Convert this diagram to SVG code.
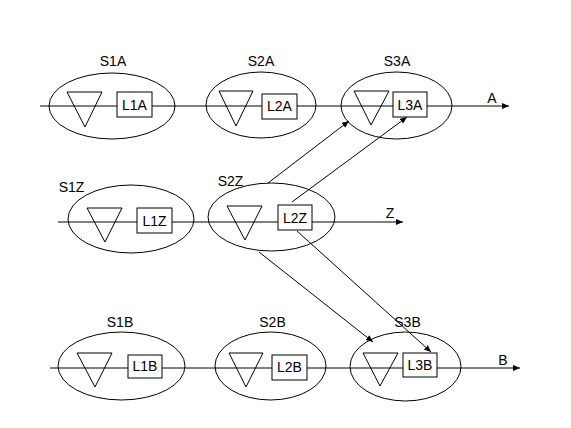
<svg xmlns="http://www.w3.org/2000/svg" width="571" height="428" viewBox="0 0 571 428">
<style>
.e{fill:none;stroke:#000;stroke-width:1}
.t{fill:none;stroke:#000;stroke-width:1}
.b{fill:#fff;stroke:#000;stroke-width:1}
.c{fill:none;stroke:#000;stroke-width:1;marker-end:url(#ah)}
text{font-family:"Liberation Sans",Arial,sans-serif;font-size:14px;fill:#000;text-anchor:middle}
</style>
<defs>
<marker id="ah" markerUnits="userSpaceOnUse" markerWidth="8" markerHeight="7" refX="7" refY="3" orient="auto">
<path d="M0,0 L7,3 L0,6 z" fill="#000"/>
</marker>
</defs>
<rect width="571" height="428" fill="#fff"/>
<g id="connectors">
<line class="c" x1="40" y1="106" x2="509" y2="106"/>
<line class="c" x1="58" y1="222" x2="403" y2="222"/>
<line class="c" x1="50" y1="368" x2="520" y2="368"/>
<line class="c" x1="268" y1="183" x2="349" y2="121"/>
<line class="c" x1="292" y1="202" x2="407" y2="117"/>
<line class="c" x1="259" y1="252" x2="373" y2="342"/>
<line class="c" x1="297" y1="231" x2="431" y2="352"/>
</g>
<g id="labels">
<text x="492" y="103">A</text>
<text x="390" y="218">Z</text>
<text x="503" y="365">B</text>
</g>
<g id="S1A">
<ellipse class="e" cx="112" cy="106" rx="63" ry="33"/>
<polygon class="t" points="67,92 102,92 85,127"/>
<rect class="b" x="117" y="92" width="35" height="25"/>
<text x="134.5" y="110">L1A</text>
<text x="113" y="66">S1A</text>
</g>
<g id="S2A">
<ellipse class="e" cx="261" cy="105" rx="55" ry="33"/>
<polygon class="t" points="219,91 253,91 236,126"/>
<rect class="b" x="262" y="94" width="35" height="25"/>
<text x="279.5" y="111">L2A</text>
<text x="261" y="66">S2A</text>
</g>
<g id="S3A">
<ellipse class="e" cx="396.5" cy="105.5" rx="55.5" ry="33.5"/>
<polygon class="t" points="354,91 389,91 371,125"/>
<rect class="b" x="393" y="92" width="34" height="25"/>
<text x="410" y="110">L3A</text>
<text x="397" y="66">S3A</text>
</g>
<g id="S1Z">
<ellipse class="e" cx="131" cy="219" rx="63" ry="34"/>
<polygon class="t" points="87,208 122,208 105,242"/>
<rect class="b" x="137" y="208" width="35" height="25"/>
<text x="154.5" y="226">L1Z</text>
<text x="71.5" y="192">S1Z</text>
</g>
<g id="S2Z">
<ellipse class="e" cx="271.5" cy="217" rx="63.5" ry="34"/>
<polygon class="t" points="227,206 262,206 245,240"/>
<rect class="b" x="278" y="205" width="34" height="25"/>
<text x="295" y="223">L2Z</text>
<text x="230.5" y="186">S2Z</text>
</g>
<g id="S1B">
<ellipse class="e" cx="121.5" cy="366" rx="63.5" ry="34"/>
<polygon class="t" points="77,353 112,353 95,387"/>
<rect class="b" x="128" y="355" width="34" height="23"/>
<text x="145" y="371">L1B</text>
<text x="120" y="327">S1B</text>
</g>
<g id="S2B">
<ellipse class="e" cx="270.5" cy="366" rx="55.5" ry="34"/>
<polygon class="t" points="229,353 263,353 246,387"/>
<rect class="b" x="272" y="355" width="35" height="25"/>
<text x="289.5" y="372">L2B</text>
<text x="272.5" y="327">S2B</text>
</g>
<g id="S3B">
<ellipse class="e" cx="405.5" cy="366.5" rx="55.5" ry="34.5"/>
<polygon class="t" points="363,353 398,353 380,386"/>
<rect class="b" x="403" y="353" width="34" height="24"/>
<text x="420" y="370">L3B</text>
<text x="407.5" y="327">S3B</text>
</g>
</svg>
